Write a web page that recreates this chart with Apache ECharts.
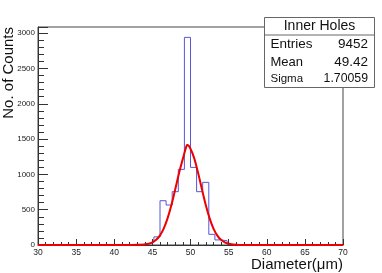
<!DOCTYPE html>
<html>
<head>
<meta charset="utf-8">
<script src="https://cdn.jsdelivr.net/npm/echarts@6/dist/echarts.min.js"></script>
<style>
html,body{margin:0;padding:0;background:#fff;}
#chart{width:382px;height:273px;}
</style>
</head>
<body>
<div id="chart"></div>
<script>
// Histogram: 50 bins of width 0.8 from 30 to 70
var binMin = 30;
var binWidth = 0.8;
var counts = [
  0,0,0,0,0,0,0,0,0,0,
  0,0,2,3,4,6,9,14,35,115,
  627,566,755,1071,2940,1099,755,887,151,72,
  60,12,5,2,0,0,0,0,0,0,
  0,0,0,0,0,0,0,0,0,0
];
// Fitted gaussian curve points [x, y]
var fitX = [30,40,42,43,43.5,44,44.5,45,45.5,46,46.5,47,47.5,48,48.5,49,49.5,49.6,50,50.5,51,51.5,52,52.5,53,53.5,54,54.5,55,55.5,56,56.5,57,58,60,70];
var fitY = [0,0,1,2,4,8,17,37,73,137,236,380,568,789,1019,1223,1410,1415,1364,1223,1019,789,568,380,236,137,73,37,17,7,3,1,0,0,0,0];
var xTicks = [30,35,40,45,50,55,60,65,70];
var yTicks = [0,500,1000,1500,2000,2500,3000];
var statsTitle = 'Inner Holes';
var statsNames = ['Entries','Mean','Sigma'];
var statsValues = ['9452','49.42','1.70059'];

var histData = [];
for (var i = 0; i < counts.length; i++) histData.push([binMin + i * binWidth, counts[i]]);
histData.push([binMin + counts.length * binWidth, counts[counts.length - 1]]);
var fitData = fitX.map(function (x, i) { return [x, fitY[i]]; });

var chart = echarts.init(document.getElementById('chart'), null, {renderer: 'canvas'});
var font = 'Liberation Sans, Arial, Helvetica, sans-serif';
chart.setOption({
  animation: false,
  backgroundColor: '#fff',
  grid: {left: 38, right: 39, top: 27, bottom: 28, show: true, borderColor: '#444', borderWidth: 1, backgroundColor: 'transparent'},
  xAxis: {
    type: 'value', min: xTicks[0], max: xTicks[xTicks.length - 1], interval: 5,
    axisLine: {show: true, onZero: false, lineStyle: {color: '#333', width: 1}},
    axisTick: {show: true, inside: true, length: 6, lineStyle: {color: '#333'}},
    minorTick: {show: true, splitNumber: 5, length: 3, lineStyle: {color: '#333'}},
    splitLine: {show: false},
    axisLabel: {fontFamily: font, fontSize: 8.5, color: '#222', margin: 3,
      formatter: function (v) { return xTicks.indexOf(v) >= 0 ? String(v) : ''; }}
  },
  yAxis: {
    type: 'value', min: 0, max: 3087, interval: 500,
    axisLine: {show: true, lineStyle: {color: '#333', width: 1}},
    axisTick: {show: true, inside: true, length: 10, lineStyle: {color: '#333'}},
    minorTick: {show: true, splitNumber: 5, length: 6, lineStyle: {color: '#333'}},
    splitLine: {show: false},
    axisLabel: {fontFamily: font, fontSize: 8, color: '#222', margin: 3, showMaxLabel: false,
      formatter: function (v) { return yTicks.indexOf(v) >= 0 ? String(v) : ''; }}
  },
  series: [
    {type: 'line', data: histData, step: 'end', symbol: 'none',
      lineStyle: {color: '#5555dd', width: 1}, z: 2},
    {type: 'line', data: fitData, smooth: 0.4, symbol: 'none',
      lineStyle: {color: '#ee0000', width: 2}, z: 3}
  ],
  graphic: [
    {type: 'text', left: 1, top: 27, rotation: Math.PI / 2, originX: 0, originY: 0,
      style: {text: 'No. of Counts', font: '15px ' + font, fill: '#111'},
      x: 4, y: 123},
    {type: 'text', x: 343, y: 257, style: {text: 'Diameter(μm)', font: '15px ' + font, fill: '#111', textAlign: 'right', textVerticalAlign: 'top'}},
    {type: 'rect', shape: {x: 264.5, y: 17.5, width: 110, height: 70}, style: {fill: '#fff', stroke: '#666', lineWidth: 1}, z: 10},
    {type: 'line', shape: {x1: 264.5, y1: 35, x2: 374.5, y2: 35}, style: {stroke: '#666', lineWidth: 1}, z: 11},
    {type: 'text', x: 319.5, y: 26.5, style: {text: statsTitle, font: '14px ' + font, fill: '#111', textAlign: 'center', textVerticalAlign: 'middle'}, z: 11},
    {type: 'text', x: 270.5, y: 44.5, style: {text: statsNames[0], font: '13.5px ' + font, fill: '#111', textVerticalAlign: 'middle'}, z: 11},
    {type: 'text', x: 368, y: 44.5, style: {text: statsValues[0], font: '13.5px ' + font, fill: '#111', textAlign: 'right', textVerticalAlign: 'middle'}, z: 11},
    {type: 'text', x: 270.5, y: 62, style: {text: statsNames[1], font: '13px ' + font, fill: '#111', textVerticalAlign: 'middle'}, z: 11},
    {type: 'text', x: 368, y: 62, style: {text: statsValues[1], font: '13.5px ' + font, fill: '#111', textAlign: 'right', textVerticalAlign: 'middle'}, z: 11},
    {type: 'text', x: 270.5, y: 79, style: {text: statsNames[2], font: '11.5px ' + font, fill: '#111', textVerticalAlign: 'middle'}, z: 11},
    {type: 'text', x: 368, y: 79, style: {text: statsValues[2], font: '12.3px ' + font, fill: '#111', textAlign: 'right', textVerticalAlign: 'middle'}, z: 11}
  ]
});
</script>
</body>
</html>
